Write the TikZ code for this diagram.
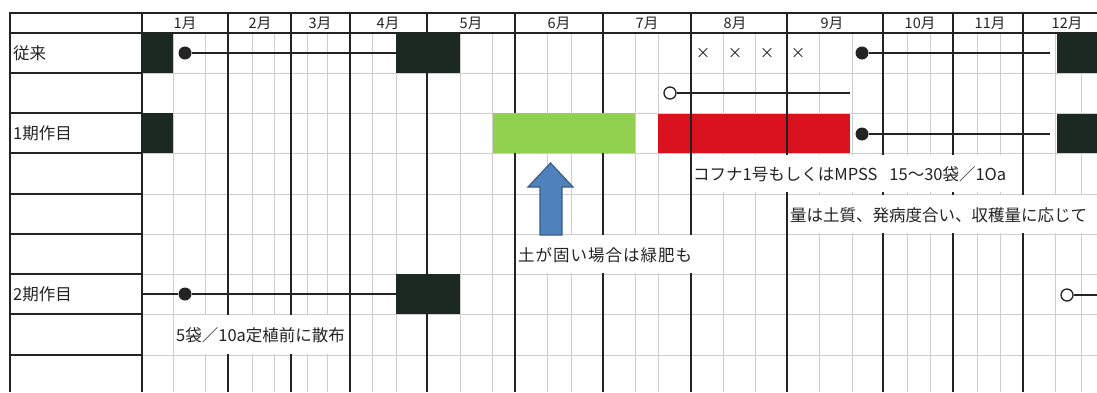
\documentclass[tikz,border=0pt]{standalone}
\usepackage{fontspec}
\setmainfont{Noto Sans CJK JP}
\definecolor{blk}{RGB}{28,40,34}
\definecolor{grn}{RGB}{146,208,80}
\definecolor{rd}{RGB}{218,18,32}
\definecolor{arrfill}{RGB}{79,129,189}
\definecolor{arrline}{RGB}{56,93,138}
\definecolor{gridc}{RGB}{205,205,205}
\definecolor{ink}{RGB}{35,35,35}
\newcommand\bigjp{\fontsize{16.5}{19}\selectfont}
\newcommand\smalljp{\fontsize{14.5}{16}\selectfont}
\begin{document}
\begin{tikzpicture}[x=1pt,y=-1pt,
  thinline/.style={draw=gridc, line width=0.8pt},
  monthline/.style={draw=ink, line width=1.4pt},
  frameline/.style={draw=ink, line width=1.6pt},
  box/.style={draw=none, inner sep=0pt, outer sep=0pt, anchor=north west},
  blkbox/.style={box, fill=blk},
  wbox/.style={box, fill=white},
  lbl/.style={inner sep=0pt, anchor=west, text=ink, font=\bigjp},
  mon/.style={inner sep=0pt, text=ink, font=\smalljp},
  cross/.style={inner sep=0pt, text=ink, font=\smalljp},
  dot/.style={circle, fill=ink, draw=none, minimum size=13pt, inner sep=0pt},
  odot/.style={circle, fill=white, draw=ink, line width=1.3pt, minimum size=12pt, inner sep=0pt},
  conn/.style={draw=ink, line width=1.2pt}
]
\useasboundingbox[fill=white] (0,0) rectangle (1097,392);

% thin grid
\foreach \x in {173,205,252,274,307,327,372,396,460,492,547,571,635,658,723,755,819,852,907,930,977,1000,1055,1081}
  \draw[thinline] (\x,33) -- (\x,392);
\foreach \y in {73,113,153,194,234,274,314,355}
  \draw[thinline] (142,\y) -- (1097,\y);

% red bar (under month lines)
\node[box, fill=rd, minimum width=192pt, minimum height=39pt] (red) at (658,114) {};

% month lines
\foreach \x in {228,291,350,427,515,603,691,787,883,953,1023}
  \draw[monthline] (\x,13) -- (\x,392);

% frame
\draw[frameline] (10,13) -- (1097,13);
\draw[frameline] (10,33) -- (1097,33);
\draw[frameline] (10,12.2) -- (10,392);
\draw[frameline] (142,13) -- (142,392);
\foreach \y in {73,113,153,194,234,274,314,355}
  \draw[frameline] (10,\y) -- (142,\y);

% header
\node[mon] (m1) at (185,23) {1月};
\node[mon] (m2) at (260,23) {2月};
\node[mon] (m3) at (320,23) {3月};
\node[mon] (m4) at (388,23) {4月};
\node[mon] (m5) at (471,23) {5月};
\node[mon] (m6) at (559,23) {6月};
\node[mon] (m7) at (647,23) {7月};
\node[mon] (m8) at (735,23) {8月};
\node[mon] (m9) at (832,23) {9月};
\node[mon] (m10) at (920,23) {10月};
\node[mon] (m11) at (990,23) {11月};
\node[mon] (m12) at (1067,23) {12月};

% row labels
\node[lbl] (r1) at (13,53) {従来};
\node[lbl] (r3) at (13,133) {1期作目};
\node[lbl] (r7) at (13,294) {2期作目};

% green bar
\node[box, fill=grn, minimum width=142pt, minimum height=40pt] (green) at (493,113) {};

% black blocks
\node[blkbox, minimum width=31pt, minimum height=40pt] (b1) at (142,33) {};
\node[blkbox, minimum width=64pt, minimum height=40pt] (b2) at (396,33) {};
\node[blkbox, minimum width=40pt, minimum height=40pt] (b3) at (1057,33) {};
\node[blkbox, minimum width=31pt, minimum height=40pt] (b4) at (142,113) {};
\node[blkbox, minimum width=40pt, minimum height=39pt] (b5) at (1057,114) {};
\node[blkbox, minimum width=64pt, minimum height=40pt] (b6) at (396,274) {};

% white text boxes
\node[wbox, minimum width=323pt, minimum height=37pt] (w1) at (692,155) {};
\node[wbox, minimum width=308pt, minimum height=38pt] (w2) at (789,195) {};
\node[wbox, minimum width=201pt, minimum height=38pt] (w3) at (517,235) {};
\node[wbox, minimum width=173pt, minimum height=39pt] (w4) at (175,315) {};

\node[lbl] (t1) at (693,174) {コフナ1号もしくはMPSS\hspace{12pt}15～30袋／1Oa};
\node[lbl] (t2) at (790,215) {量は土質、発病度合い、収穫量に応じて};
\node[lbl] (t3) at (518,255) {\addfontfeature{LetterSpace=6}土が固い場合は緑肥も};
\node[lbl] (t4) at (176,335) {5袋／10a定植前に散布};

% crosses
\node[cross] (x1) at (703,53) {×};
\node[cross] (x2) at (735,53) {×};
\node[cross] (x3) at (767,53) {×};
\node[cross] (x4) at (798,53) {×};

% markers and connectors
\node[dot] (d1) at (185,53) {};
\draw[conn] (d1) -- (b2.west);

\node[dot] (d2) at (862,53) {};
\coordinate (e2) at (1050,53);
\draw[conn] (d2) -- (e2);

\node[odot] (o1) at (670,93) {};
\coordinate (e3) at (850,93);
\draw[conn] (o1) -- (e3);

\node[dot] (d3) at (862,134) {};
\coordinate (e4) at (1050,134);
\draw[conn] (d3) -- (e4);

\coordinate (s7) at (142,294);
\node[dot] (d4) at (185,294) {};
\draw[conn] (s7) -- (d4) -- (b6.west);

\node[odot] (o2) at (1067,295) {};
\coordinate (e7) at (1097,295);
\draw[conn] (o2) -- (e7);

% block arrow
\draw[fill=arrfill, draw=arrline, line width=1.2pt, line join=miter]
  (540,235) -- (540,187) -- (528,187) -- (550.5,163) -- (573,187) -- (562,187) -- (562,235) -- cycle;
\end{tikzpicture}
\end{document}
